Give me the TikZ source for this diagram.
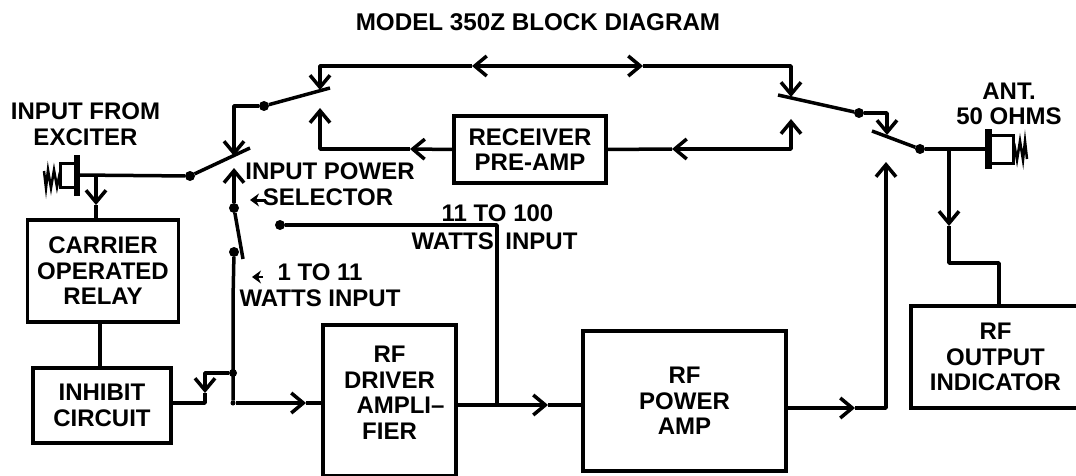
\documentclass[tikz,border=0pt]{standalone}
\usepackage{fontspec}
\setmainfont{Liberation Sans}
\usetikzlibrary{calc,arrows.meta,positioning}
\tikzset{
  block/.style={draw,line width=3.5pt,outer sep=0pt,inner sep=0pt},
  wire/.style={line width=3.5pt,line join=round},
  flow/.style={wire,-{Straight Barb[length=12pt,width=20pt,line width=3.5pt]}},
  tick/.style={line width=3pt,-{Stealth[length=9pt,width=13pt]}},
  contact/.style={circle,fill=black,inner sep=0pt,minimum size=10pt,outer sep=0pt},
  label/.style={inner sep=0pt}
}
\begin{document}
\begin{tikzpicture}[x=1pt,y=-1pt,every node/.style={align=center,font=\fontsize{24}{25.5}\selectfont\bfseries}]
\useasboundingbox (0,0) rectangle (1076,476);
\node[label,font=\fontsize{24.2}{24}\selectfont\bfseries] (title) at (538,22) {MODEL 350Z BLOCK DIAGRAM};
\node[label] (inputfrom) at (85.5,124) {INPUT FROM\\EXCITER};
\node[label] (selector) at (330,184) {INPUT POWER\\SELECTOR\hspace*{4pt}};
\node[label] (high) at (494.5,227.5) {\hspace*{6pt}11 TO 100\\[2.5pt]WATTS\hspace*{5pt} INPUT};
\node[label] (low) at (320,285) {1 TO 11\\WATTS INPUT};
\node[label] (ant) at (1009,104) {ANT.\\50 OHMS};
% blocks
\node[block,minimum width=151pt,minimum height=102pt] (carrier) at (103,271) {CARRIER\\OPERATED\\RELAY};
\node[block,minimum width=138pt,minimum height=75pt] (inhibit) at (102,405.5) {INHIBIT\\CIRCUIT};
\node[block,minimum width=133pt,minimum height=151pt,text depth=16pt] (driver) at (389.5,400.5) {RF\\DRIVER\\\hspace*{22pt}AMPLI--\\FIER};
\node[block,minimum width=203pt,minimum height=140pt] (power) at (684.5,401) {RF\\POWER\\AMP};
\node[block,minimum width=152pt,minimum height=67pt] (preamp) at (530,149.5) {RECEIVER\\PRE-AMP};
\node[block,minimum width=169pt,minimum height=102pt] (output) at (995.5,357) {RF\\OUTPUT\\INDICATOR};
% jacks
\node[block,line width=3pt,minimum width=17pt,minimum height=24pt] (jackin) at (68.5,175) {};
\node[block,fill=black,line width=0pt,minimum width=5pt,minimum height=40pt] (flangein) at (77,175) {};
\node[block,line width=3pt,minimum width=25pt,minimum height=27pt] (jackout) at (1001,149.5) {};
\node[block,fill=black,line width=0pt,minimum width=6pt,minimum height=38pt] (flangeout) at (988,149) {};
\draw[line width=2.5pt] (60,172)--(57,187)--(54,170)--(51,188)--(48,170)--(46,188)--(44,171);
\draw[line width=2.5pt] (1014,143)--(1017,160)--(1020,141)--(1023,160)--(1025,141)--(1027,159);
% contacts
\node[contact] (inpole) at (190,176) {};
\node[contact] (selpole) at (264,106) {};
\node[contact] (lowtop) at (234,208) {};
\node[contact] (lowbot) at (234,252) {};
\node[contact] (hightop) at (280,225) {};
\node[contact,minimum size=8pt] (junction) at (233,373) {};
\node[contact,minimum size=5pt] (corner) at (233,403) {};
\node[contact] (outpole) at (859,113) {};
\node[contact] (antpole) at (920,149) {};
% free ends of switch blades
\coordinate (inblade) at (250,148);
\coordinate (selblade) at (330,88);
\coordinate (relayblade) at (778,95);
\coordinate (antblade) at (872,131);
\coordinate (lowblade) at (243,259);
% input side
\draw[wire] (flangein)--(inpole);
\draw[wire] (inpole)--(inblade);
\draw[flow] (96,176)--(96,205);
\draw[wire] (96,205)--(96,220);
\draw[wire] (100,322)--(100,368);
\draw[wire] (selpole)--(selblade);
\draw[flow] (selpole)-|(234,156);
\draw[flow] (lowtop)--(234,168);
\draw[wire] (lowtop)--(lowblade);
\draw[wire] (lowbot)--(233,300)--(corner);
\draw[flow] (junction)-|(205,393);
\draw[wire] (205,393)|-(172,403);
\draw[flow] (corner)--(306,403);
\draw[wire] (306,403)--(323,403);
% driver to power amp
\draw[flow] (456,405)--(548,405);
\draw[wire] (548,405)--(583,405);
\draw[wire] (497,405)--(497,225)--(hightop);
\draw[flow] (786,408)--(855,408);
\draw[wire] (855,408)-|(886,300);
\draw[flow] (886,300)--(886,162);
% top loop
\draw[flow] (560,66)--(472,66);
\draw[flow] (472,66)-|(320,90);
\draw[flow] (560,66)--(643,66);
\draw[flow] (643,66)-|(791,97);
% receiver return
\draw[flow] (preamp.west)--(410,149);
\draw[flow] (410,149)-|(320,108);
\draw[flow] (740,149)--(672,149);
\draw[wire] (672,149)--(preamp.east);
\draw[flow] (740,149)-|(791,119);
% output side
\draw[wire] (relayblade)--(outpole);
\draw[flow] (outpole)-|(887,135);
\draw[wire] (antblade)--(antpole);
\draw[wire] (antpole)--(flangeout);
\draw[flow] (949,149)--(949,226);
\draw[wire] (949,226)--(949,263)-|(999,306);
% pointers at the selector
\coordinate (selptr) at (266,200);
\coordinate (lowptr) at (263,277);
\draw[tick] (selptr)--(250,200);
\draw[tick,line width=2pt] (lowptr)--(252,277);
\end{tikzpicture}
\end{document}
